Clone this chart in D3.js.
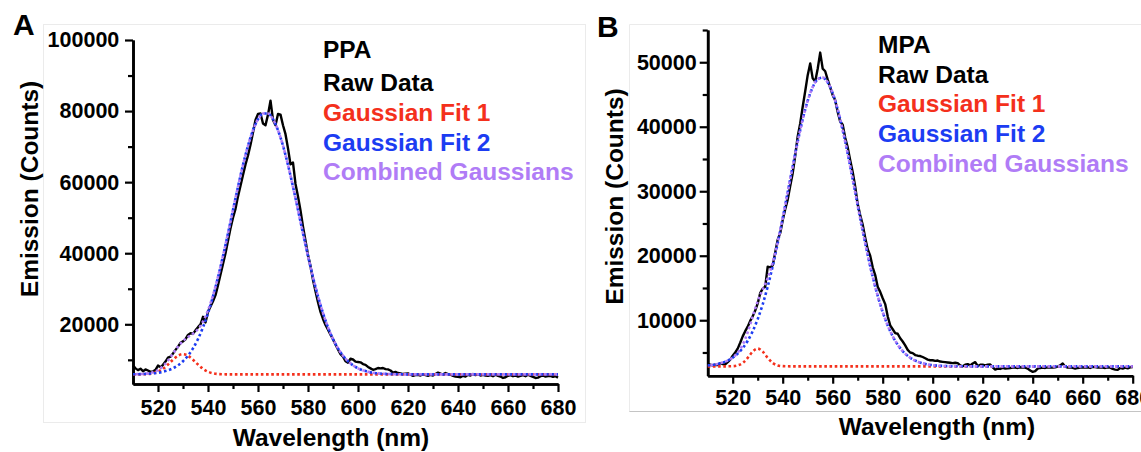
<!DOCTYPE html>
<html><head><meta charset="utf-8">
<script src="https://cdn.jsdelivr.net/npm/d3@7"></script>
<style>
html,body{margin:0;padding:0;background:#fff;}
svg{display:block;font-family:"Liberation Sans",Arial,sans-serif;font-weight:bold;}
</style></head><body>
<svg id="chart" width="1141" height="452"></svg>
<script>
// ---------- DATA ----------
const rawStart = 510;            // raw spectra sampled every 1 nm from 510 to 680 nm
const rawA = [
 8400,7600,7100,7500,6800,7300,7000,6600,6700,7200,
 8400,7900,8600,9500,10600,10900,11800,12800,13700,14800,
 15200,15800,17000,17500,17300,18300,19200,20000,22100,20500,
 23500,25000,26500,28200,31000,34000,37000,40000,43500,47000,
 50000,52500,56000,59000,62000,65000,67500,70500,74000,77500,
 79200,79300,76500,76000,79000,82900,77500,76000,79200,79000,
 76000,73500,69500,65000,65500,59500,56000,52000,47500,43500,
 39500,36300,32500,29300,26200,23500,21500,19800,18500,17100,
 15800,14300,12900,11600,10900,9600,9200,10300,10100,9500,
 9400,9300,8800,8600,8000,7600,7200,7400,7700,7600,
 7700,7400,7300,7000,6400,6600,6300,6200,6000,6100,
 6200,5800,5500,5700,5800,5600,5900,5700,5500,5800,
 5600,6000,6400,6100,5900,6300,6000,5800,5500,5300,
 5200,5100,5500,5300,5800,5600,6000,5700,5900,5600,
 5800,5600,5500,5700,5400,5800,5500,5300,4900,5100,
 5500,5700,5400,5600,5300,5500,5700,5400,5800,5500,
 5200,4900,5000,5400,5600,5300,5400,5500,5200,5400,
 5000
];
const rawB = [
 3300,3100,3000,3100,3050,3350,3200,3150,3500,3900,
 4500,5000,5600,6500,7500,8300,9000,9900,10600,11500,
 12600,14200,14900,15200,18300,18200,18500,20500,22500,23500,
 25500,27200,28700,30800,32800,35500,38500,40500,43100,45500,
 48000,49800,47500,47000,49000,51500,49000,48600,47300,46100,
 44900,44100,42300,40800,40300,38300,36800,34800,33000,30700,
 28000,26300,24800,22800,21000,20000,18200,17000,15200,14400,
 13400,12500,10600,9200,8600,8000,7900,7200,6700,6100,
 5400,5000,4900,4600,4500,4450,4300,4100,3900,3800,
 3800,3700,3750,3600,3550,3500,3450,3400,3350,3400,
 3350,3000,2850,3100,3200,3000,3300,3500,2900,3100,
 3100,3000,3100,3150,2700,2350,2500,2450,2600,2500,
 2550,2600,2650,2650,2600,2700,2650,2650,2500,2200,
 2000,2100,2500,2600,2650,2600,2700,2650,2650,2700,
 2800,3000,3300,2800,2650,2700,2600,2500,2600,2650,
 2700,2650,2700,2600,2750,2750,2650,2700,2650,2600,
 2700,2650,2450,2350,2300,2600,2500,2650,2550,2700,
 2750
];

// fitted curves, read at these wavelengths (nm)
const fitWavelengths = [510,512,514,516,518,520,522,524,526,528,530,532,534,536,538,540,542,544,546,548,
 550,552,554,556,558,560,562,564,566,568,570,572,574,576,578,580,582,584,586,588,
 590,592,594,596,598,600,602,604,606,608,610,620,640,660,680];

const gaussFit1A = [5900,5909,5934,6013,6220,6671,7485,8675,10039,11162,11600,11162,10039,8675,7485,6671,6220,6013,5934,5909,
 5902,5900,5900,5900,5900,5900,5900,5900,5900,5900,5900,5900,5900,5900,5900,5900,5900,5900,5900,5900,
 5900,5900,5900,5900,5900,5900,5900,5900,5900,5900,5900,5900,5900,5900,5900];
const gaussFit2A = [5933,5959,6001,6072,6184,6361,6631,7034,7620,8454,9610,11169,13227,15861,19148,23145,27848,33242,39204,45600,
 52187,58708,64832,70241,74620,77704,79298,79298,77704,74620,70241,64832,58708,52187,45600,39204,33242,27848,23145,19148,
 15861,13227,11169,9610,8454,7620,7034,6631,6361,6184,6072,5910,5900,5900,5900];
const combinedA = [5935,5968,6035,6185,6504,7132,8216,9809,11759,13716,15310,16431,17366,18636,20733,23916,28168,33355,39238,45609,
 52189,58708,64832,70241,74620,77704,79298,79298,77704,74620,70241,64832,58708,52187,45600,39204,33242,27848,23145,19148,
 15861,13227,11169,9610,8454,7620,7034,6631,6361,6184,6072,5910,5900,5900,5900];

const gaussFit1B = [2850,2850,2850,2850,2854,2878,2996,3377,4169,5138,5600,5138,4169,3377,2996,2878,2854,2850,2850,2850,
 2850,2850,2850,2850,2850,2850,2850,2850,2850,2850,2850,2850,2850,2850,2850,2850,2850,2850,2850,2850,
 2850,2850,2850,2850,2850,2850,2850,2850,2850,2850,2850,2850,2850,2850,2850];
const gaussFit2B = [2990,3081,3220,3431,3742,4190,4819,5677,6821,8303,10175,12473,15219,18391,21944,25797,29820,33847,37691,41154,
 44030,46149,47370,47619,46875,45195,42677,39483,35809,31845,27795,23843,20125,16751,13790,11272,9189,7514,6210,5215,
 4477,3946,3572,3315,3143,3031,2959,2914,2887,2871,2861,2850,2850,2850,2850];
const combinedB = [2990,3081,3220,3431,3746,4218,4965,6204,8140,10591,12925,14761,16538,18918,22090,25825,29824,33847,37691,41154,
 44030,46149,47370,47619,46875,45195,42677,39483,35809,31845,27795,23843,20125,16751,13790,11272,9189,7514,6210,5215,
 4477,3946,3572,3315,3143,3031,2959,2914,2887,2871,2861,2850,2850,2850,2850];

const xTicks = [520,540,560,580,600,620,640,660,680];
const xMinorTicks = [530,550,570,590,610,630,650,670];
const yTicksA = [20000,40000,60000,80000,100000];
const yMinorA = [10000,30000,50000,70000,90000];
const yTicksB = [10000,20000,30000,40000,50000];
const yMinorB = [5000,15000,25000,35000,45000,55000];
const legendA = ["PPA","Raw Data","Gaussian Fit 1","Gaussian Fit 2","Combined Gaussians"];
const legendB = ["MPA","Raw Data","Gaussian Fit 1","Gaussian Fit 2","Combined Gaussians"];
const xTitle = "Wavelength (nm)";
const yTitle = "Emission (Counts)";

// ---------- STYLE ----------
const RED = "#f4301c", BLUE = "#1c3cf2", PURPLE = "#b07cf6";
const legendColors = ["#000","#000",RED,BLUE,PURPLE];

const svg = d3.select("#chart");

// panel frames
svg.append("rect").attr("x",43.5).attr("y",24.5).attr("width",542).attr("height",398)
  .attr("fill","none").attr("stroke","#ebebeb").attr("stroke-width",1);
svg.append("line").attr("x1",629.5).attr("x2",629.5).attr("y1",24.5).attr("y2",412)
  .attr("stroke","#ebebeb");
svg.append("line").attr("x1",629.5).attr("x2",1141).attr("y1",24.5).attr("y2",24.5)
  .attr("stroke","#ebebeb");
svg.append("line").attr("x1",629.5).attr("x2",1141).attr("y1",411.5).attr("y2",411.5)
  .attr("stroke","#c4c4c4");

const panels = [
  {raw: rawA, g1: gaussFit1A, g2: gaussFit2A, gc: combinedA,
   yDomain:[3200,100000], yTicks:yTicksA, yMinor:yMinorA,
   left:133, right:558, top:40, bottom:384, yPad:5.7, xPad:8,
   letter:"A", letterX:13, letterY:35,
   xTitleX:331, xTitleY:446, yTitleX:37.5, yTitleY:189,
   legend:legendA, legendX:323, legendY:[58,90.5,121,150.5,180]},
  {raw: rawB, g1: gaussFit1B, g2: gaussFit2B, gc: combinedB,
   yDomain:[1400,55000], yTicks:yTicksB, yMinor:yMinorB,
   left:707.7, right:1132.7, top:30, bottom:375.7, yPad:3, xPad:6.3,
   letter:"B", letterX:597, letterY:36.5,
   xTitleX:937, xTitleY:435, yTitleX:623, yTitleY:196.5,
   legend:legendB, legendX:878, legendY:[52.7,82.7,111.7,141.7,171.7]}
];

panels.forEach(p => {
  const x = d3.scaleLinear().domain([510,680]).range([p.left,p.right]);
  const y = d3.scaleLinear().domain(p.yDomain).range([p.bottom,p.top]);
  const g = svg.append("g");

  // axes
  const styleAxis = sel => {
    sel.selectAll("path.domain").attr("stroke","#000").attr("stroke-width",2.6);
    sel.selectAll(".tick line").attr("stroke","#000").attr("stroke-width",2.2);
    sel.selectAll("text").attr("font-size",21.5).attr("font-weight","bold")
      .attr("font-family","'Liberation Sans',Arial,sans-serif").attr("fill","#000");
    sel.attr("font-family",null).attr("font-size",null);
  };
  g.append("g").attr("transform",`translate(0,${p.bottom})`)
    .call(d3.axisBottom(x).tickValues(xMinorTicks).tickSize(5).tickFormat("").tickSizeOuter(0)).call(styleAxis);
  g.append("g").attr("transform",`translate(${p.left},0)`)
    .call(d3.axisLeft(y).tickValues(p.yMinor).tickSize(5).tickFormat("").tickSizeOuter(0)).call(styleAxis);
  g.append("g").attr("transform",`translate(0,${p.bottom})`)
    .call(d3.axisBottom(x).tickValues(xTicks).tickSize(8).tickPadding(p.xPad).tickFormat(d3.format("d")).tickSizeOuter(0)).call(styleAxis);
  g.append("g").attr("transform",`translate(${p.left},0)`)
    .call(d3.axisLeft(y).tickValues(p.yTicks).tickSize(8).tickPadding(p.yPad).tickFormat(d3.format("d")).tickSizeOuter(0)).call(styleAxis);

  // raw data
  const rawPts = p.raw.map((v,i)=>[rawStart+i, v]);
  const line = d3.line().x(d=>x(d[0])).y(d=>y(d[1]));
  g.append("path").datum(rawPts).attr("d",line)
    .attr("fill","none").attr("stroke","#000").attr("stroke-width",2.4).attr("stroke-linejoin","round");

  // fits
  const fitLine = d3.line().x(d=>x(d[0])).y(d=>y(d[1])).curve(d3.curveMonotoneX);
  const fits = [[p.g1,RED,0],[p.g2,BLUE,0],[p.gc,PURPLE,2.6]];
  fits.forEach(([vals,col,off]) => {
    g.append("path").datum(fitWavelengths.map((w,i)=>[w, vals[i]])).attr("d",fitLine)
      .attr("fill","none").attr("stroke",col).attr("stroke-width",2.6)
      .attr("stroke-dasharray","2.6 2.6").attr("stroke-dashoffset",off);
  });

  // legend text
  p.legend.forEach((t,i) => {
    g.append("text").attr("x",p.legendX).attr("y",p.legendY[i]).text(t)
      .attr("font-size",24.5).attr("fill",legendColors[i]);
  });

  // axis titles
  g.append("text").attr("x",p.xTitleX).attr("y",p.xTitleY).attr("text-anchor","middle")
    .attr("font-size",24.5).text(xTitle);
  g.append("text").attr("transform",`translate(${p.yTitleX},${p.yTitleY}) rotate(-90)`)
    .attr("text-anchor","middle").attr("font-size",24.5).text(yTitle);

  // panel letter
  g.append("text").attr("x",p.letterX).attr("y",p.letterY).attr("font-size",30).text(p.letter);
});
</script>
</body></html>
